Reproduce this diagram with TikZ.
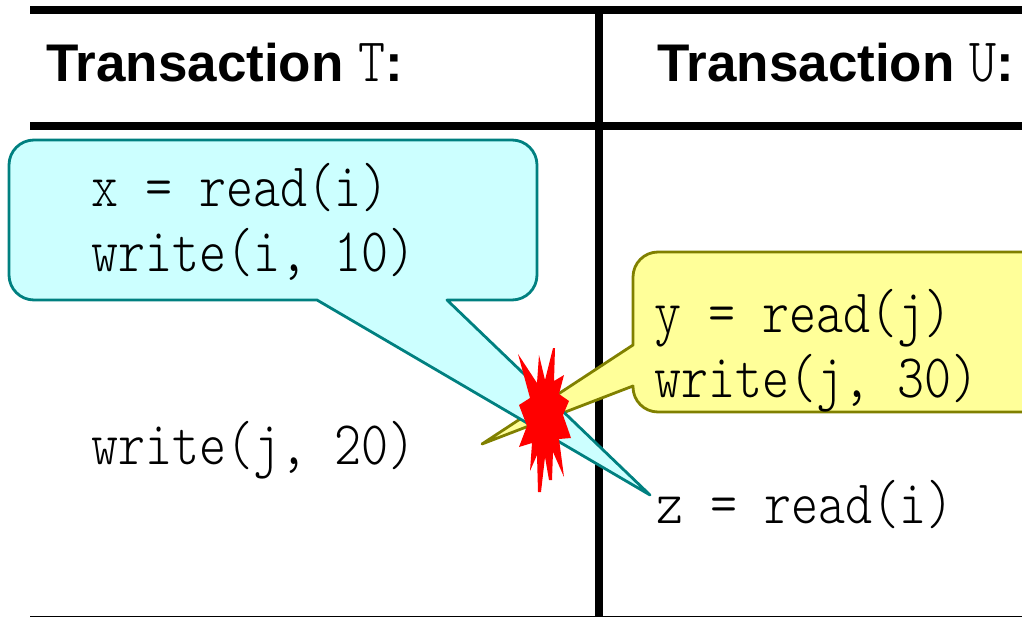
\documentclass[tikz,border=0pt]{standalone}
\usepackage{fontspec}
\setmainfont{Liberation Sans}
\setmonofont[FakeStretch=0.83]{Latin Modern Mono Light}
\usepackage{xcolor}
\usepackage{tikz}
\definecolor{callcyan}{HTML}{CCFFFF}
\definecolor{callteal}{HTML}{008080}
\definecolor{callyellow}{HTML}{FFFF99}
\definecolor{callolive}{HTML}{808000}
\tikzset{code/.style={anchor=base west,inner sep=0pt,font=\fontsize{62}{70}\selectfont\ttfamily},
         head/.style={anchor=base west,inner sep=0pt,font=\fontsize{53}{60}\selectfont\bfseries},
         rule/.style={line width=8pt}}

\begin{document}
\begin{tikzpicture}[x=1pt,y=-1pt]
    \useasboundingbox (0,0) rectangle (1022,617);
    \clip (0,0) rectangle (1022,617);

    \draw [rule] (30,10) to (1022,10);
    \draw [rule] (30,126) to (1022,126);
    \draw [rule] (599,10) to (599,617);
    \draw [line width=1pt] (30,616) to (1022,616);

    \node[head] (headt) at (46,82) {Transaction \textnormal{\fontsize{62}{70}\selectfont\ttfamily T}:};
    \node[head] (headu) at (657,82) {Transaction \textnormal{\fontsize{62}{70}\selectfont\ttfamily U}:};

    \draw [fill=callyellow,draw=callolive,line width=2.8pt,line join=round] (633,386) [rounded corners=25] -- (633,412) -- (1060,412) -- (1060,252) -- (633,252) [sharp corners] -- (633,345) -- (482,444) -- cycle;
    \draw [fill=callcyan,draw=callteal,line width=2.8pt,line join=round] (447,300) [rounded corners=25] -- (537,300) -- (537,140) -- (9,140) -- (9,300) [sharp corners] -- (317,300) -- (650,495) -- cycle;
    \fill [red] (553,348) -- (555,348) -- (554,381) -- (564,375) -- (559,394) -- (569,401) -- (563,415) -- (571,438) -- (559,439) -- (564,477) -- (553,452) -- (552,480) -- (549,480) -- (545,457) -- (541,492) -- (538,492) -- (537,455) -- (530,471) -- (532,443) -- (519,447) -- (527,426) -- (519,405) -- (530,398) -- (518,354) -- (537,383) -- (539,355) -- (545,380) -- cycle;

    \node[code] (xread) at (91,207) {x = read(i)};
    \node[code] (iwrite) at (91,272) {write(i, 10)};
    \node[code] (jwritet) at (91,464) {write(j, 20)};
    \node[code] (yread) at (654,333) {y = read(j)};
    \node[code] (jwriteu) at (654,397) {write(j, 30)};
    \node[code] (zread) at (656,523) {z = read(i)};
\end{tikzpicture}
\end{document}
